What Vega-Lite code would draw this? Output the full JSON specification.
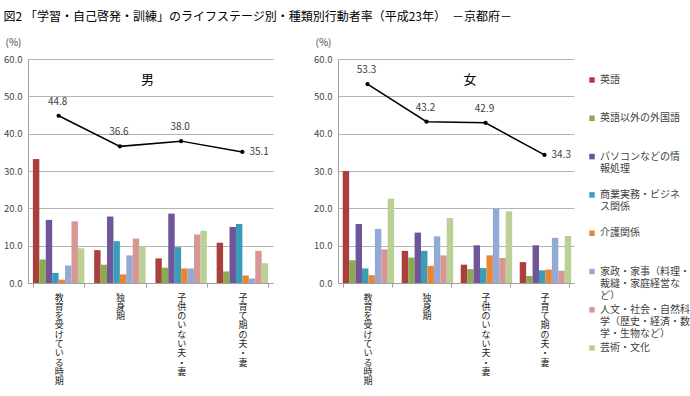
{
  "$schema": "https://vega.github.io/schema/vega-lite/v6.json",
  "padding": {"left": 3, "top": 11, "right": 0, "bottom": 0},
  "title": {"text": "図2 「学習・自己啓発・訓練」のライフステージ別・種類別行動者率（平成23年）　－京都府－", "anchor": "start", "frame": "bounds", "fontSize": 12, "fontWeight": "normal", "color": "#000000", "offset": 13},
  "spacing": 65,
  "bounds": "flush",
  "datasets": {
    "bars": [
      {"sex": "男", "stage": "教育を受けている時期", "type": "英語", "value": 33.2},
      {"sex": "男", "stage": "教育を受けている時期", "type": "英語以外の外国語", "value": 6.3},
      {"sex": "男", "stage": "教育を受けている時期", "type": "パソコンなどの情報処理", "value": 16.9},
      {"sex": "男", "stage": "教育を受けている時期", "type": "商業実務・ビジネス関係", "value": 2.7},
      {"sex": "男", "stage": "教育を受けている時期", "type": "介護関係", "value": 0.9},
      {"sex": "男", "stage": "教育を受けている時期", "type": "家政・家事（料理・裁縫・家庭経営など）", "value": 4.7},
      {"sex": "男", "stage": "教育を受けている時期", "type": "人文・社会・自然科学（歴史・経済・数学・生物など）", "value": 16.5},
      {"sex": "男", "stage": "教育を受けている時期", "type": "芸術・文化", "value": 9.3},
      {"sex": "男", "stage": "独身期", "type": "英語", "value": 8.8},
      {"sex": "男", "stage": "独身期", "type": "英語以外の外国語", "value": 4.9},
      {"sex": "男", "stage": "独身期", "type": "パソコンなどの情報処理", "value": 17.8},
      {"sex": "男", "stage": "独身期", "type": "商業実務・ビジネス関係", "value": 11.2},
      {"sex": "男", "stage": "独身期", "type": "介護関係", "value": 2.3},
      {"sex": "男", "stage": "独身期", "type": "家政・家事（料理・裁縫・家庭経営など）", "value": 7.4},
      {"sex": "男", "stage": "独身期", "type": "人文・社会・自然科学（歴史・経済・数学・生物など）", "value": 11.9},
      {"sex": "男", "stage": "独身期", "type": "芸術・文化", "value": 9.8},
      {"sex": "男", "stage": "子供のいない夫・妻", "type": "英語", "value": 6.6},
      {"sex": "男", "stage": "子供のいない夫・妻", "type": "英語以外の外国語", "value": 4.1},
      {"sex": "男", "stage": "子供のいない夫・妻", "type": "パソコンなどの情報処理", "value": 18.6},
      {"sex": "男", "stage": "子供のいない夫・妻", "type": "商業実務・ビジネス関係", "value": 9.6},
      {"sex": "男", "stage": "子供のいない夫・妻", "type": "介護関係", "value": 3.9},
      {"sex": "男", "stage": "子供のいない夫・妻", "type": "家政・家事（料理・裁縫・家庭経営など）", "value": 3.9},
      {"sex": "男", "stage": "子供のいない夫・妻", "type": "人文・社会・自然科学（歴史・経済・数学・生物など）", "value": 13.0},
      {"sex": "男", "stage": "子供のいない夫・妻", "type": "芸術・文化", "value": 14.0},
      {"sex": "男", "stage": "子育て期の夫・妻", "type": "英語", "value": 10.8},
      {"sex": "男", "stage": "子育て期の夫・妻", "type": "英語以外の外国語", "value": 3.1},
      {"sex": "男", "stage": "子育て期の夫・妻", "type": "パソコンなどの情報処理", "value": 15.0},
      {"sex": "男", "stage": "子育て期の夫・妻", "type": "商業実務・ビジネス関係", "value": 15.8},
      {"sex": "男", "stage": "子育て期の夫・妻", "type": "介護関係", "value": 2.0},
      {"sex": "男", "stage": "子育て期の夫・妻", "type": "家政・家事（料理・裁縫・家庭経営など）", "value": 1.2},
      {"sex": "男", "stage": "子育て期の夫・妻", "type": "人文・社会・自然科学（歴史・経済・数学・生物など）", "value": 8.6},
      {"sex": "男", "stage": "子育て期の夫・妻", "type": "芸術・文化", "value": 5.3},
      {"sex": "女", "stage": "教育を受けている時期", "type": "英語", "value": 30.0},
      {"sex": "女", "stage": "教育を受けている時期", "type": "英語以外の外国語", "value": 6.1},
      {"sex": "女", "stage": "教育を受けている時期", "type": "パソコンなどの情報処理", "value": 15.8},
      {"sex": "女", "stage": "教育を受けている時期", "type": "商業実務・ビジネス関係", "value": 3.9},
      {"sex": "女", "stage": "教育を受けている時期", "type": "介護関係", "value": 2.1},
      {"sex": "女", "stage": "教育を受けている時期", "type": "家政・家事（料理・裁縫・家庭経営など）", "value": 14.5},
      {"sex": "女", "stage": "教育を受けている時期", "type": "人文・社会・自然科学（歴史・経済・数学・生物など）", "value": 9.0},
      {"sex": "女", "stage": "教育を受けている時期", "type": "芸術・文化", "value": 22.6},
      {"sex": "女", "stage": "独身期", "type": "英語", "value": 8.6},
      {"sex": "女", "stage": "独身期", "type": "英語以外の外国語", "value": 6.8},
      {"sex": "女", "stage": "独身期", "type": "パソコンなどの情報処理", "value": 13.5},
      {"sex": "女", "stage": "独身期", "type": "商業実務・ビジネス関係", "value": 8.6},
      {"sex": "女", "stage": "独身期", "type": "介護関係", "value": 4.6},
      {"sex": "女", "stage": "独身期", "type": "家政・家事（料理・裁縫・家庭経営など）", "value": 12.5},
      {"sex": "女", "stage": "独身期", "type": "人文・社会・自然科学（歴史・経済・数学・生物など）", "value": 7.4},
      {"sex": "女", "stage": "独身期", "type": "芸術・文化", "value": 17.4},
      {"sex": "女", "stage": "子供のいない夫・妻", "type": "英語", "value": 4.9},
      {"sex": "女", "stage": "子供のいない夫・妻", "type": "英語以外の外国語", "value": 3.7},
      {"sex": "女", "stage": "子供のいない夫・妻", "type": "パソコンなどの情報処理", "value": 10.1},
      {"sex": "女", "stage": "子供のいない夫・妻", "type": "商業実務・ビジネス関係", "value": 4.0},
      {"sex": "女", "stage": "子供のいない夫・妻", "type": "介護関係", "value": 7.4},
      {"sex": "女", "stage": "子供のいない夫・妻", "type": "家政・家事（料理・裁縫・家庭経営など）", "value": 19.9},
      {"sex": "女", "stage": "子供のいない夫・妻", "type": "人文・社会・自然科学（歴史・経済・数学・生物など）", "value": 6.7},
      {"sex": "女", "stage": "子供のいない夫・妻", "type": "芸術・文化", "value": 19.2},
      {"sex": "女", "stage": "子育て期の夫・妻", "type": "英語", "value": 5.6},
      {"sex": "女", "stage": "子育て期の夫・妻", "type": "英語以外の外国語", "value": 1.9},
      {"sex": "女", "stage": "子育て期の夫・妻", "type": "パソコンなどの情報処理", "value": 10.1},
      {"sex": "女", "stage": "子育て期の夫・妻", "type": "商業実務・ビジネス関係", "value": 3.4},
      {"sex": "女", "stage": "子育て期の夫・妻", "type": "介護関係", "value": 3.6},
      {"sex": "女", "stage": "子育て期の夫・妻", "type": "家政・家事（料理・裁縫・家庭経営など）", "value": 12.1},
      {"sex": "女", "stage": "子育て期の夫・妻", "type": "人文・社会・自然科学（歴史・経済・数学・生物など）", "value": 3.3},
      {"sex": "女", "stage": "子育て期の夫・妻", "type": "芸術・文化", "value": 12.6}
    ],
    "totals": [
      {"sex": "男", "stage": "教育を受けている時期", "value": 44.8},
      {"sex": "男", "stage": "独身期", "value": 36.6},
      {"sex": "男", "stage": "子供のいない夫・妻", "value": 38.0},
      {"sex": "男", "stage": "子育て期の夫・妻", "value": 35.1},
      {"sex": "女", "stage": "教育を受けている時期", "value": 53.3},
      {"sex": "女", "stage": "独身期", "value": 43.2},
      {"sex": "女", "stage": "子供のいない夫・妻", "value": 42.9},
      {"sex": "女", "stage": "子育て期の夫・妻", "value": 34.3}
    ]
  },
  "hconcat": [
    {
      "width": 245,
      "height": 224,
      "title": {"text": "男", "offset": -50, "dx": -3, "fontSize": 13, "fontWeight": "normal", "color": "#000000"},
      "layer": [
        {
          "data": {"name": "bars"},
          "transform": [{"filter": "datum.sex == '男'"}],
          "mark": {"type": "bar"},
          "encoding": {
            "x": {"field": "stage", "type": "nominal", "sort": ["教育を受けている時期", "独身期", "子供のいない夫・妻", "子育て期の夫・妻"], "scale": {"paddingInner": 0.16, "paddingOuter": 0.08}, "title": null},
            "xOffset": {"field": "type", "type": "nominal", "sort": ["英語", "英語以外の外国語", "パソコンなどの情報処理", "商業実務・ビジネス関係", "介護関係", "家政・家事（料理・裁縫・家庭経営など）", "人文・社会・自然科学（歴史・経済・数学・生物など）", "芸術・文化"], "scale": {"paddingInner": 0, "paddingOuter": 0}},
            "y": {"field": "value", "type": "quantitative", "scale": {"domain": [0, 60]}, "title": "(%)"},
            "color": {"field": "type", "type": "nominal", "sort": ["英語", "英語以外の外国語", "パソコンなどの情報処理", "商業実務・ビジネス関係", "介護関係", "家政・家事（料理・裁縫・家庭経営など）", "人文・社会・自然科学（歴史・経済・数学・生物など）", "芸術・文化"], "scale": {"domain": ["英語", "英語以外の外国語", "パソコンなどの情報処理", "商業実務・ビジネス関係", "介護関係", "家政・家事（料理・裁縫・家庭経営など）", "人文・社会・自然科学（歴史・経済・数学・生物など）", "芸術・文化"], "range": ["#AA403E", "#8DAB4E", "#70559A", "#3A9DB7", "#EB8534", "#94AAD6", "#D89694", "#BBD095"]}, "title": null,
              "legend": {
                "orient": "none", "legendX": 559, "legendY": 16, "symbolType": "square", "symbolSize": 30, "symbolStrokeWidth": 0,
                "labelFontSize": 10, "labelColor": "#404040", "labelLimit": 200, "labelOffset": 3, "labelBaseline": "middle",
                "rowPadding": 4.3, "padding": 0,
                "labelExpr": "datum.label == 'パソコンなどの情報処理' ? ['パソコンなどの情', '報処理', ''] : datum.label == '商業実務・ビジネス関係' ? ['商業実務・ビジネ', 'ス関係', ''] : datum.label == '家政・家事（料理・裁縫・家庭経営など）' ? ['家政・家事（料理・', '裁縫・家庭経営な', 'ど）'] : datum.label == '人文・社会・自然科学（歴史・経済・数学・生物など）' ? ['人文・社会・自然科', '学（歴史・経済・数', '学・生物など）'] : [datum.label, '', '']"
              }
            }
          }
        },
        {
          "data": {"name": "totals"},
          "transform": [{"filter": "datum.sex == '男'"}],
          "mark": {"type": "line", "color": "#000000", "strokeWidth": 1.5, "point": {"filled": true, "color": "#000000", "size": 18}},
          "encoding": {
            "x": {"field": "stage", "type": "nominal", "sort": ["教育を受けている時期", "独身期", "子供のいない夫・妻", "子育て期の夫・妻"]},
            "y": {"field": "value", "type": "quantitative"}
          }
        },
        {
          "data": {"name": "totals"},
          "transform": [{"filter": "datum.sex == '男' && datum.stage != '子育て期の夫・妻'"}],
          "mark": {"type": "text", "dy": -14, "dx": -1, "fontSize": 10, "color": "#404040"},
          "encoding": {
            "x": {"field": "stage", "type": "nominal", "sort": ["教育を受けている時期", "独身期", "子供のいない夫・妻", "子育て期の夫・妻"]},
            "y": {"field": "value", "type": "quantitative"},
            "text": {"field": "value", "type": "quantitative", "format": ".1f"}
          }
        },
        {
          "data": {"name": "totals"},
          "transform": [{"filter": "datum.sex == '男' && datum.stage == '子育て期の夫・妻'"}],
          "mark": {"type": "text", "align": "left", "dx": 7, "fontSize": 10, "color": "#404040"},
          "encoding": {
            "x": {"field": "stage", "type": "nominal", "sort": ["教育を受けている時期", "独身期", "子供のいない夫・妻", "子育て期の夫・妻"]},
            "y": {"field": "value", "type": "quantitative"},
            "text": {"field": "value", "type": "quantitative", "format": ".1f"}
          }
        }
      ]
    },
    {
      "width": 236,
      "height": 224,
      "title": {"text": "女", "offset": -50, "dx": 14, "fontSize": 13, "fontWeight": "normal", "color": "#000000"},
      "layer": [
        {
          "data": {"name": "bars"},
          "transform": [{"filter": "datum.sex == '女'"}],
          "mark": {"type": "bar"},
          "encoding": {
            "x": {"field": "stage", "type": "nominal", "sort": ["教育を受けている時期", "独身期", "子供のいない夫・妻", "子育て期の夫・妻"], "scale": {"paddingInner": 0.16, "paddingOuter": 0.08}, "title": null},
            "xOffset": {"field": "type", "type": "nominal", "sort": ["英語", "英語以外の外国語", "パソコンなどの情報処理", "商業実務・ビジネス関係", "介護関係", "家政・家事（料理・裁縫・家庭経営など）", "人文・社会・自然科学（歴史・経済・数学・生物など）", "芸術・文化"], "scale": {"paddingInner": 0, "paddingOuter": 0}},
            "y": {"field": "value", "type": "quantitative", "scale": {"domain": [0, 60]}, "title": "(%)"},
            "color": {"field": "type", "type": "nominal", "sort": ["英語", "英語以外の外国語", "パソコンなどの情報処理", "商業実務・ビジネス関係", "介護関係", "家政・家事（料理・裁縫・家庭経営など）", "人文・社会・自然科学（歴史・経済・数学・生物など）", "芸術・文化"], "title": null}
          }
        },
        {
          "data": {"name": "totals"},
          "transform": [{"filter": "datum.sex == '女'"}],
          "mark": {"type": "line", "color": "#000000", "strokeWidth": 1.5, "point": {"filled": true, "color": "#000000", "size": 18}},
          "encoding": {
            "x": {"field": "stage", "type": "nominal", "sort": ["教育を受けている時期", "独身期", "子供のいない夫・妻", "子育て期の夫・妻"]},
            "y": {"field": "value", "type": "quantitative"}
          }
        },
        {
          "data": {"name": "totals"},
          "transform": [{"filter": "datum.sex == '女' && datum.stage != '子育て期の夫・妻'"}],
          "mark": {"type": "text", "dy": -14, "dx": -1, "fontSize": 10, "color": "#404040"},
          "encoding": {
            "x": {"field": "stage", "type": "nominal", "sort": ["教育を受けている時期", "独身期", "子供のいない夫・妻", "子育て期の夫・妻"]},
            "y": {"field": "value", "type": "quantitative"},
            "text": {"field": "value", "type": "quantitative", "format": ".1f"}
          }
        },
        {
          "data": {"name": "totals"},
          "transform": [{"filter": "datum.sex == '女' && datum.stage == '子育て期の夫・妻'"}],
          "mark": {"type": "text", "align": "left", "dx": 7, "fontSize": 10, "color": "#404040"},
          "encoding": {
            "x": {"field": "stage", "type": "nominal", "sort": ["教育を受けている時期", "独身期", "子供のいない夫・妻", "子育て期の夫・妻"]},
            "y": {"field": "value", "type": "quantitative"},
            "text": {"field": "value", "type": "quantitative", "format": ".1f"}
          }
        }
      ]
    }
  ],
  "config": {
    "font": "Noto Sans CJK JP",
    "view": {"stroke": null},
    "axisX": {
      "domainColor": "#A0A0A0", "ticks": true, "tickBand": "extent", "tickColor": "#A0A0A0", "tickSize": 4,
      "labelAngle": 0, "labelBaseline": "top", "labelAlign": "center", "labelExpr": "split(datum.label, '')",
      "labelLineHeight": 9.3, "labelFontSize": 9, "labelColor": "#222222", "labelPadding": 6, "labelLimit": 0, "labelOverlap": false, "grid": false
    },
    "axisY": {
      "values": [0, 10, 20, 30, 40, 50, 60], "format": ".1f", "ticks": false, "domainColor": "#A0A0A0",
      "gridColor": "#B4B4B4", "labelFontSize": 9.5, "labelColor": "#444444", "labelPadding": 6,
      "titleAngle": 0, "titleAlign": "center", "titleBaseline": "bottom", "titleX": -15, "titleY": -12,
      "titleFontSize": 10, "titleFontWeight": "normal", "titleColor": "#444444"
    }
  }
}
